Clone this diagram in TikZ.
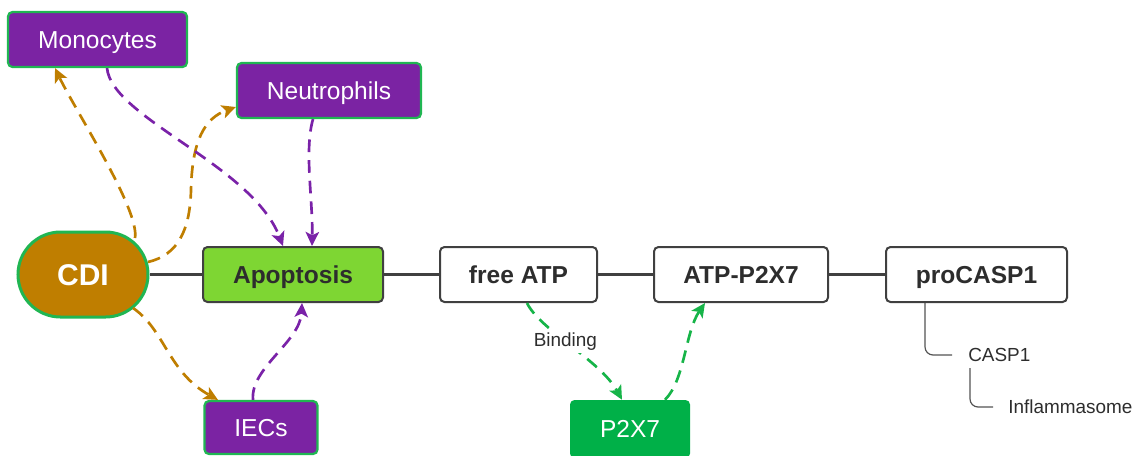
\documentclass[tikz,border=0pt]{standalone}
\usepackage{fontspec}
\setmainfont{Liberation Sans}
\usetikzlibrary{arrows.meta,shapes.misc,calc}

\definecolor{cellpurple}{RGB}{123,35,163}
\definecolor{cellgreen}{RGB}{32,182,82}
\definecolor{recgreen}{RGB}{0,176,72}
\definecolor{cdibrown}{RGB}{191,126,0}
\definecolor{apopgreen}{RGB}{126,214,51}
\definecolor{boxgray}{RGB}{64,64,64}
\definecolor{txtdark}{RGB}{45,45,45}
\definecolor{arrpurple}{RGB}{122,34,168}
\definecolor{arrgreen}{RGB}{22,180,72}

\newcommand\pxu{0.75pt}

\tikzset{
  base/.style={inner sep=0pt, minimum height=55*\pxu, rounded corners=4.5*\pxu,
    font=\fontsize{18.4}{22}\selectfont, text height=13.2pt, text depth=0pt},
  cellbox/.style={base, fill=cellpurple, draw=cellgreen, line width=2.2*\pxu, text=white},
  stagebox/.style={base, fill=white, draw=boxgray, line width=2*\pxu, text=txtdark,
    font=\fontsize{18.4}{22}\selectfont\bfseries},
  leaftext/.style={inner sep=0pt, anchor=west, text=txtdark,
    font=\fontsize{14.2}{17}\selectfont, text height=10.2pt, text depth=0pt},
  tipof/.style={-{Stealth[length=10.5pt, width=10pt, inset=2.5pt, fill=#1]}},
  flow/.style={line width=2pt, dash pattern=on 9.5pt off 6pt, draw=#1, tipof=#1},
  trunk/.style={draw=boxgray, line width=3.2*\pxu},
  twig/.style={draw=boxgray!90, line width=1.2*\pxu, rounded corners=8*\pxu},
}

\begin{document}
\begin{tikzpicture}[x=0.75pt,y=-0.75pt]
\useasboundingbox (0,0) rectangle (1137,455);

% nodes
\node[cellbox, minimum width=179*\pxu] (mono) at (97.5,39.5) {Monocytes};
\node[cellbox, minimum width=184*\pxu] (neut) at (329,90.5) {Neutrophils};
\node[rounded rectangle, inner sep=0pt, minimum width=130*\pxu, minimum height=85*\pxu,
      fill=cdibrown, draw=cellgreen, line width=3*\pxu, text=white,
      font=\fontsize{22.5}{26}\selectfont\bfseries, text height=16.1pt, text depth=0pt]
      (cdi) at (83,274.5) {CDI};
\node[stagebox, fill=apopgreen, minimum width=180*\pxu] (apop) at (293,274.5) {Apoptosis};
\node[cellbox, minimum width=113*\pxu, minimum height=53*\pxu] (iec) at (261,427.5) {IECs};
\node[stagebox, minimum width=157*\pxu] (fatp) at (518.5,274.5) {free ATP};
\node[stagebox, minimum width=174*\pxu] (atpr) at (741,274.5) {ATP-P2X7};
\node[stagebox, minimum width=181*\pxu] (pcasp) at (976.5,274.5) {proCASP1};
\node[base, fill=recgreen, text=white, minimum width=120*\pxu, minimum height=58*\pxu]
      (p2x7) at (630,429) {P2X7};
\node[leaftext] (casp) at (968,355) {CASP1};
\node[leaftext] (infl) at (1008,407) {Inflammasome};

% main pathway line
\draw[trunk] (cdi.east) -- (apop.west);
\draw[trunk] (apop.east) -- (fatp.west);
\draw[trunk] (fatp.east) -- (atpr.west);
\draw[trunk] (atpr.east) -- (pcasp.west);

% CDI effects on cells
\draw[flow=cdibrown]
  ($(cdi.center)+(52,-36.5)$) .. controls (140,210) and (75,110) .. (mono.south -| 55,0);
\draw[flow=cdibrown]
  ($(cdi.center)+(65,-12.5)$) .. controls (178,255) and (190,230) .. (191,190)
  .. controls (192,140) and (205,118) .. (neut.west |- 0,107);
\draw[flow=cdibrown]
  ($(cdi.center)+(50,33.5)$) .. controls (165,330) and (168,372) .. (iec.north -| 218,0);

% cells feeding apoptosis
\draw[flow=arrpurple]
  (mono.south -| 107,0) .. controls (112,118) and (252,165) .. (apop.north -| 283,0);
\draw[flow=arrpurple]
  (neut.south -| 313,0) .. controls (304,150) and (313,200) .. (apop.north -| 312,0);
\draw[flow=arrpurple]
  (iec.north -| 253,0) .. controls (250,368) and (300,342) .. (apop.south -| 302,0);

% ATP binding to the receptor
\draw[flow=arrgreen]
  (fatp.south -| 527,0) .. controls (540,330) and (600,360) .. (p2x7.north -| 622,0)
  node[pos=0.45, fill=white, inner sep=1.5pt, text=txtdark,
       font=\fontsize{14.2}{17}\selectfont] (bind) {Binding};
\draw[flow=arrgreen]
  (p2x7.north -| 665,0) .. controls (685,380) and (685,332) .. (atpr.south -| 705,0);

% downstream tree
\draw[twig] (pcasp.south -| 925,0) |- ([xshift=-16*\pxu]casp.west);
\draw[twig] ([xshift=2*\pxu,yshift=-6*\pxu]casp.south west) |- ([xshift=-15*\pxu]infl.west);
\end{tikzpicture}
\end{document}
